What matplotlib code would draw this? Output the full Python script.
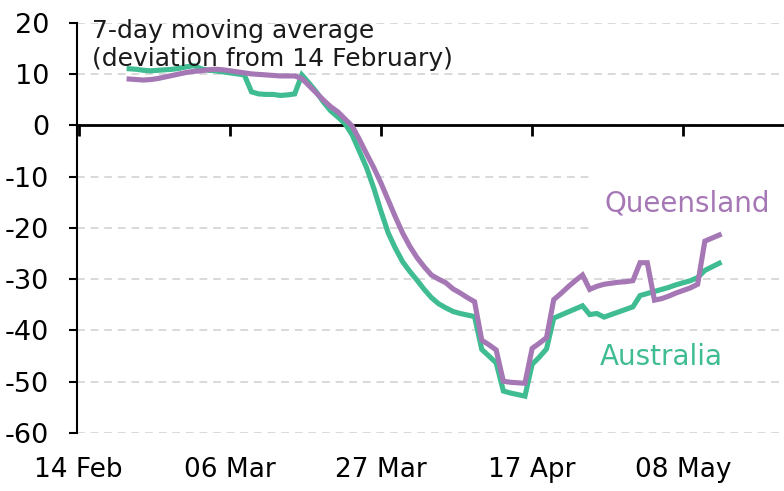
import numpy as np
import pandas as pd
import matplotlib
matplotlib.use('Agg')
import matplotlib.pyplot as plt
import matplotlib.dates as mdates

# 7-day moving average, deviation from 14 February
start_date = '2020-02-21'
australia = [11.0, 10.9, 10.7, 10.6, 10.7, 10.8, 10.9, 11.1, 11.4, 11.6,
             11.0, 10.7, 10.6, 10.4, 10.2, 10.0, 9.8, 6.5, 6.1, 6.0,
             6.0, 5.8, 5.9, 6.1, 9.8, 8.2, 6.5, 4.5, 2.8, 1.6,
             0.3, -1.9, -5.1, -8.3, -12.3, -16.8, -21.0, -24.0, -26.6, -28.5,
             -30.2, -32.0, -33.6, -34.8, -35.6, -36.3, -36.7, -37.0, -37.3, -43.7,
             -45.0, -46.3, -51.8, -52.2, -52.5, -52.8, -46.6, -45.2, -43.6, -37.6,
             -37.0, -36.4, -35.8, -35.2, -36.9, -36.7, -37.4, -36.9, -36.4, -35.9,
             -35.4, -33.2, -32.8, -32.4, -32.0, -31.6, -31.1, -30.7, -30.3, -29.7,
             -28.3, -27.6, -26.9]
queensland = [9.0, 8.9, 8.8, 8.9, 9.1, 9.4, 9.7, 10.0, 10.3, 10.5,
              10.6, 10.8, 10.9, 10.8, 10.6, 10.4, 10.2, 10.0, 9.9, 9.8,
              9.7, 9.6, 9.6, 9.6, 9.1, 7.7, 6.3, 4.9, 3.6, 2.6,
              1.2, -0.2, -2.8, -5.6, -8.3, -11.3, -14.6, -17.9, -21.0, -23.6,
              -25.8, -27.6, -29.2, -30.0, -30.7, -31.9, -32.7, -33.6, -34.4, -41.9,
              -42.8, -43.8, -49.9, -50.1, -50.2, -50.3, -43.5, -42.5, -41.4, -34.0,
              -32.8, -31.5, -30.3, -29.2, -32.0, -31.4, -31.0, -30.8, -30.6, -30.5,
              -30.3, -26.8, -26.8, -34.1, -33.8, -33.3, -32.7, -32.2, -31.7, -31.0,
              -22.6, -22.0, -21.4]
tick_dates = ['2020-02-14', '2020-03-06', '2020-03-27', '2020-04-17', '2020-05-08']
y_ticks = [20, 10, 0, -10, -20, -30, -40, -50, -60]

green = '#3fbc91'
purple = '#a577b5'

plt.rcParams['font.family'] = ['DejaVu Sans']
plt.rcParams['axes.unicode_minus'] = False

dates = pd.date_range(start_date, periods=len(australia), freq='D')

fig = plt.figure(figsize=(7.84, 4.91), dpi=100)
ax = fig.add_axes([0.0982, 0.118, 0.9018, 0.836])

ax.plot(dates, australia, color=green, lw=3.7, solid_joinstyle='miter', zorder=3)
ax.plot(dates, queensland, color=purple, lw=3.7, solid_joinstyle='miter', zorder=4)

ax.set_ylim(-60, 20)
ax.set_yticks(y_ticks)
ax.set_xlim(pd.Timestamp('2020-02-13 18:00'), pd.Timestamp('2020-05-22'))
ax.set_xticks(pd.to_datetime(tick_dates))
ax.xaxis.set_major_formatter(mdates.DateFormatter('%d %b'))

ax.grid(axis='y', color='#d9d9d9', lw=1.4, ls=(0, (4, 3)), zorder=0)
ax.grid(axis='x', visible=False)
ax.axhline(0, color='black', lw=2, zorder=2)

for s in ['top', 'right', 'bottom']:
    ax.spines[s].set_visible(False)
ax.spines['left'].set_linewidth(1.5)
ax.tick_params(axis='y', length=6, width=1.5, pad=14, labelsize=19.5)
ax.tick_params(axis='x', length=0, pad=17, labelsize=19)

# tick marks hanging down from the zero line
zero = ax.secondary_xaxis((0 - (-60)) / 80)
zero.set_xticks(pd.to_datetime(tick_dates))
zero.tick_params(axis='x', direction='in', length=8, width=2, labeltop=False)
zero.spines['top'].set_visible(False)

ax.text(0.021, 1.008, '7-day moving average\n(deviation from 14 February)',
        transform=ax.transAxes, ha='left', va='top', fontsize=18,
        linespacing=1.2, color='#1a1a1a')

ax.text(pd.Timestamp('2020-05-08 12:00'), -15.2, 'Queensland', color=purple,
        fontsize=20, ha='center', va='center', zorder=5,
        bbox=dict(facecolor='white', edgecolor='none', pad=10))
ax.text(pd.Timestamp('2020-05-05'), -45.2, 'Australia', color=green,
        fontsize=20, ha='center', va='center')

fig.savefig('out.png', dpi=100)
